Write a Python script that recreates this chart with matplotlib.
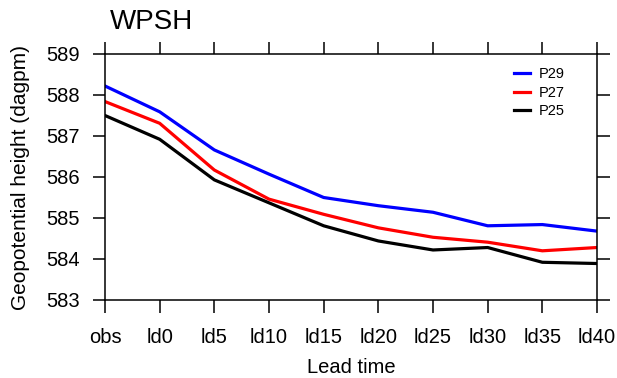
import matplotlib
matplotlib.use("Agg")
import matplotlib.pyplot as plt

plt.rcParams['font.family'] = ['Liberation Sans', 'DejaVu Sans']

#### DATA ####
labels = ['obs', 'ld0', 'ld5', 'ld10', 'ld15', 'ld20', 'ld25', 'ld30', 'ld35', 'ld40']
p29 = [588.22, 587.59, 586.66, 586.07, 585.50, 585.30, 585.14, 584.81, 584.84, 584.68]
p27 = [587.84, 587.31, 586.17, 585.46, 585.09, 584.76, 584.53, 584.41, 584.20, 584.28]
p25 = [587.50, 586.92, 585.93, 585.37, 584.81, 584.44, 584.22, 584.28, 583.92, 583.89]
yticks = [583, 584, 585, 586, 587, 588, 589]

fig = plt.figure(figsize=(6.17, 3.78), dpi=100)
ax = fig.add_axes([105/617, 1-300/378, 492/617, 246/378])

x = range(len(labels))
ax.plot(x, p29, color='blue', lw=2.3, label='P29')
ax.plot(x, p27, color='red', lw=2.3, label='P27')
ax.plot(x, p25, color='black', lw=2.3, label='P25')

ax.set_xlim(0, len(labels)-1)
ax.set_ylim(583, 589)
ax.set_xticks(list(x))
ax.set_xticklabels(labels)
ax.set_yticks(yticks)

ax.tick_params(direction='out', length=9, width=1.1, labelsize=14.5,
               top=True, right=True)
ax.tick_params(axis='x', pad=11.5)
ax.tick_params(axis='y', pad=9)
for s in ax.spines.values():
    s.set_linewidth(1.1)

ax.set_xlabel('Lead time', fontsize=14.5)
ax.set_ylabel('Geopotential height (dagpm)', fontsize=15)
ax.xaxis.set_label_coords(0.5, -(358-300)/246)
ax.yaxis.set_label_coords(-(105-30)/492, 0.5)

fig.text(110/617, 1-22/378, 'WPSH', fontsize=20, ha='left', va='center')

ax.legend(loc='upper right', bbox_to_anchor=(0.962, 0.999), frameon=False,
          fontsize=10.5, handlelength=1.1, handletextpad=0.6, labelspacing=0.3)

plt.savefig('out.png', dpi=100)
